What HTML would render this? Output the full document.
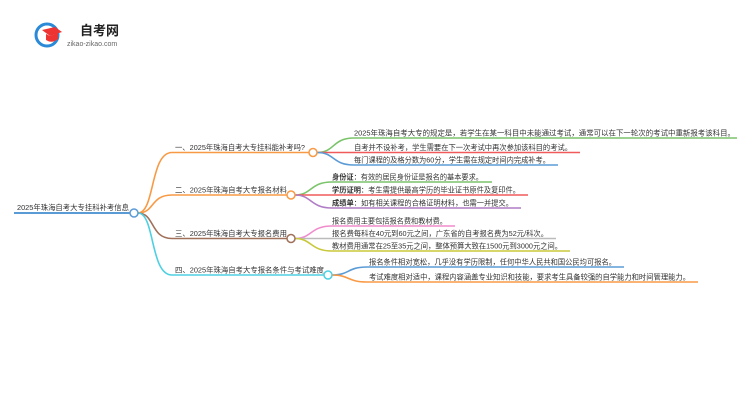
<!DOCTYPE html>
<html><head><meta charset="utf-8"><style>
html,body{margin:0;padding:0;background:#fff;width:750px;height:410px;overflow:hidden}
svg text{font-family:"Liberation Sans","Noto Sans CJK SC",sans-serif;font-size:7.5px;fill:#333}
</style></head><body>
<svg width="750" height="410" viewBox="0 0 750 410" xmlns="http://www.w3.org/2000/svg">
<!-- logo -->
<circle cx="47" cy="35" r="11" fill="none" stroke="#2a8ad8" stroke-width="3"/>
<path d="M42 30 L55 27 L62 32 L50 36 Z" fill="#e33"/>
<path d="M46 34 L46 40 Q52 44 58 39 L58 33 L50 36 Z" fill="#e33"/>
<text x="80" y="35" style="font-size:13px;font-weight:bold;fill:#222">自考网</text>
<text x="67" y="46" style="font-size:7px;fill:#666">zikao-zikao.com</text>

<g fill="none" stroke-width="1.6">
<path d="M14 213 H130" stroke="#5b9bd5" stroke-width="2"/>
<path d="M138 213 C155 213 150 152.5 172 152.5 H309" stroke="#f89a45"/>
<path d="M138 213 C155 213 150 195 172 195 H287" stroke="#f89a45"/>
<path d="M138 213 C155 213 150 238.5 172 238.5 H287" stroke="#a0705a"/>
<path d="M138 213 C155 213 150 275 172 275 H324" stroke="#4dd0e1"/>
<path d="M317 152.5 C335 152.5 332 138 354 138 H737" stroke="#7ac46a"/>
<path d="M317 152.5 H580" stroke="#f05a5a"/>
<path d="M317 152.5 C335 152.5 332 165 354 165 H558" stroke="#5b9bd5"/>
<path d="M295 195 C312 195 310 182 332 182 H492" stroke="#7ac46a"/>
<path d="M295 195 H528" stroke="#f05a5a"/>
<path d="M295 195 C312 195 310 208 332 208 H521" stroke="#b07cc6"/>
<path d="M295 238.5 C312 238.5 310 226 332 226 H455" stroke="#f08ccc"/>
<path d="M295 238.5 H556" stroke="#bbb"/>
<path d="M295 238.5 C312 238.5 310 251 332 251 H570" stroke="#c8c83a"/>
<path d="M332 275 C350 275 347 267 367 267 H624" stroke="#5b9bd5"/>
<path d="M332 275 C350 275 347 282 367 282 H698" stroke="#f89a45"/>
</g>
<g fill="#fff" stroke-width="1.5">
<circle cx="134" cy="213" r="4" stroke="#5b9bd5"/>
<circle cx="313" cy="152.5" r="4" stroke="#f89a45"/>
<circle cx="291" cy="195" r="4" stroke="#f89a45"/>
<circle cx="291" cy="238.5" r="4" stroke="#a0705a"/>
<circle cx="328" cy="275" r="4" stroke="#4dd0e1"/>
</g>
<text x="17" y="210" textLength="112" lengthAdjust="spacingAndGlyphs">2025年珠海自考大专挂科补考信息</text>
<text x="175" y="150" textLength="130" lengthAdjust="spacingAndGlyphs">一、2025年珠海自考大专挂科能补考吗?</text>
<text x="175" y="192.5" textLength="112" lengthAdjust="spacingAndGlyphs">二、2025年珠海自考大专报名材料</text>
<text x="175" y="236" textLength="112" lengthAdjust="spacingAndGlyphs">三、2025年珠海自考大专报名费用</text>
<text x="175" y="272.5" textLength="149" lengthAdjust="spacingAndGlyphs">四、2025年珠海自考大专报名条件与考试难度</text>

<text x="354" y="135.5" textLength="381" lengthAdjust="spacingAndGlyphs">2025年珠海自考大专的规定是，若学生在某一科目中未能通过考试，通常可以在下一轮次的考试中重新报考该科目。</text>
<text x="354" y="150" textLength="218" lengthAdjust="spacingAndGlyphs">自考并不设补考，学生需要在下一次考试中再次参加该科目的考试。</text>
<text x="354" y="162.5" textLength="196" lengthAdjust="spacingAndGlyphs">每门课程的及格分数为60分，学生需在规定时间内完成补考。</text>

<text x="332" y="179.5" textLength="151" lengthAdjust="spacingAndGlyphs"><tspan font-weight="bold">身份证</tspan>：有效的居民身份证是报名的基本要求。</text>
<text x="332" y="192.5" textLength="188" lengthAdjust="spacingAndGlyphs"><tspan font-weight="bold">学历证明</tspan>：考生需提供最高学历的毕业证书原件及复印件。</text>
<text x="332" y="205.5" textLength="181" lengthAdjust="spacingAndGlyphs"><tspan font-weight="bold">成绩单</tspan>：如有相关课程的合格证明材料，也需一并提交。</text>

<text x="332" y="223.5" textLength="115" lengthAdjust="spacingAndGlyphs">报名费用主要包括报名费和教材费。</text>
<text x="332" y="236" textLength="216" lengthAdjust="spacingAndGlyphs">报名费每科在40元到60元之间，广东省的自考报名费为52元/科次。</text>
<text x="332" y="248.5" textLength="230" lengthAdjust="spacingAndGlyphs">教材费用通常在25至35元之间，整体预算大致在1500元到3000元之间。</text>

<text x="369" y="264.5" textLength="247" lengthAdjust="spacingAndGlyphs">报名条件相对宽松，几乎没有学历限制，任何中华人民共和国公民均可报名。</text>
<text x="369" y="279.5" textLength="321" lengthAdjust="spacingAndGlyphs">考试难度相对适中，课程内容涵盖专业知识和技能，要求考生具备较强的自学能力和时间管理能力。</text>
</svg>
</body></html>
